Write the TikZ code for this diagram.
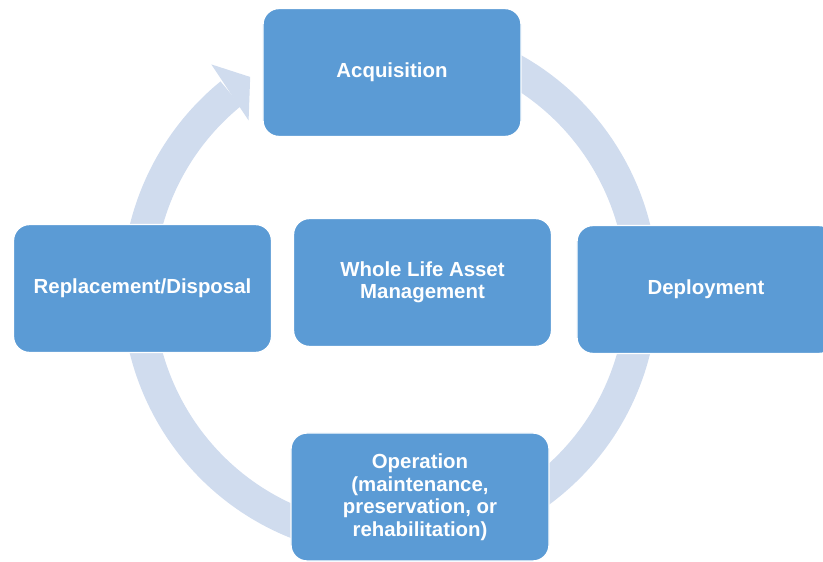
\documentclass[tikz,border=0pt]{standalone}
\usepackage{fontspec}
\setmainfont{Liberation Sans}
\definecolor{stageblue}{HTML}{5B9BD5}
\definecolor{ringblue}{HTML}{D0DCEE}

\tikzset{
    stage/.style={draw=white, line width=1pt, fill=stageblue, rounded corners=0.4cm,
        minimum width=6.45cm, minimum height=3.2cm, text=white, align=center,
        font=\bfseries\fontsize{14.5}{16}\selectfont},
    ring/.style={draw=ringblue, line width=0.8cm}
}

\begin{document}
\begin{tikzpicture}[x=0.025cm, y=0.025cm]
    \clip (0,0) rectangle (823,561);

    \coordinate (ctr) at (390,272);

    \draw[ring] ([shift={(75:252)}]ctr) arc[start angle=75, end angle=-230.8, radius=252];
    \fill[ringblue] ([shift={(128.5:287)}]ctr) -- ([shift={(123.4:254)}]ctr)
        -- ([shift={(130:220)}]ctr) -- cycle;

    \node[stage] (acq) at (392,488.5) {Acquisition};
    \node[stage] (rep) at (142.5,272.5) {Replacement/Disposal};
    \node[stage] (wla) at (422.5,278.5) {Whole Life Asset\\Management};
    \node[stage] (dep) at (706,271.5) {Deployment};
    \node[stage] (ops) at (420,64) {Operation\\(maintenance,\\preservation, or\\rehabilitation)};
\end{tikzpicture}
\end{document}
